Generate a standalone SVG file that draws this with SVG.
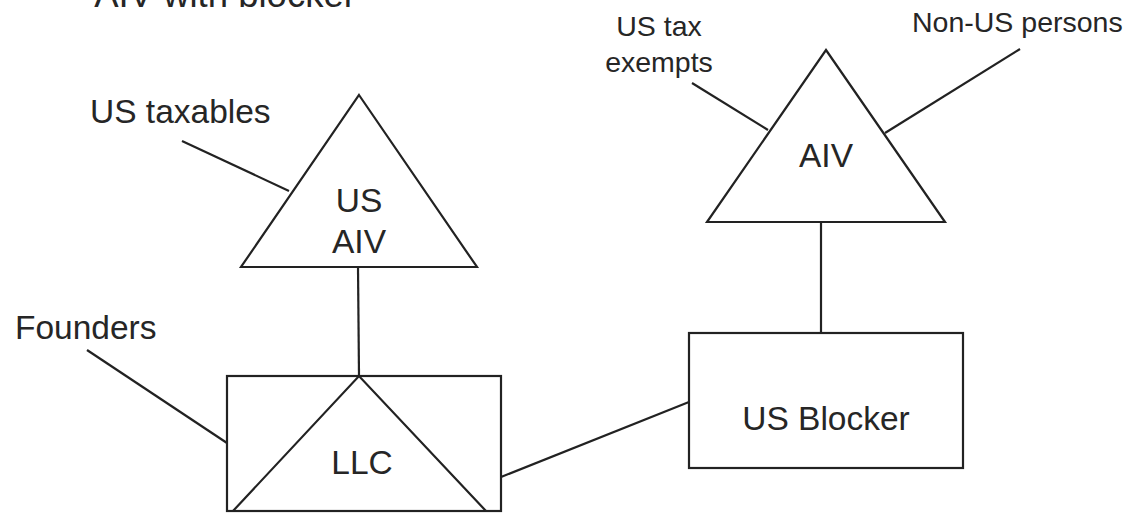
<svg xmlns="http://www.w3.org/2000/svg" width="1133" height="514" viewBox="0 0 1133 514">
  <style>
    .shape { fill: #ffffff; stroke: #222222; stroke-width: 2.2; stroke-linejoin: miter; }
    .link { fill: none; stroke: #222222; stroke-width: 2.2; }
    .lbl { font-family: "Liberation Sans", Arial, sans-serif; fill: #262626; }
    .big { font-size: 33.5px; }
    .small { font-size: 28.5px; }
    .mid { text-anchor: middle; }
  </style>
  <rect width="1133" height="514" fill="#ffffff"/>

  <text id="title" class="lbl mid" x="225" y="7" style="font-size:36.5px">AIV with blocker</text>

  <g id="connectors">
    <line class="link" x1="182" y1="141" x2="289" y2="191"/>
    <line class="link" x1="87" y1="350" x2="227" y2="443"/>
    <line class="link" x1="358" y1="267" x2="359" y2="376"/>
    <line class="link" x1="501" y1="477" x2="689" y2="402"/>
    <line class="link" x1="821" y1="222" x2="821" y2="333"/>
    <line class="link" x1="692" y1="83" x2="768" y2="130"/>
    <line class="link" x1="1020" y1="49" x2="885" y2="133"/>
  </g>

  <g id="us-taxables">
    <text class="lbl big" x="90" y="123">US taxables</text>
  </g>

  <g id="founders">
    <text class="lbl big" x="15" y="339">Founders</text>
  </g>

  <g id="us-tax-exempts">
    <text class="lbl small mid" x="659" y="36">US tax</text>
    <text class="lbl small mid" x="659" y="72">exempts</text>
  </g>

  <g id="non-us-persons">
    <text class="lbl small" x="912" y="32">Non-US persons</text>
  </g>

  <g id="us-aiv">
    <polygon class="shape" points="359,95 477,267 241,267"/>
    <text class="lbl big mid" x="359" y="212">US</text>
    <text class="lbl big mid" x="359" y="253">AIV</text>
  </g>

  <g id="llc">
    <rect class="shape" x="227" y="376" width="274" height="135"/>
    <polyline class="link" points="233,511 359,376 486,511"/>
    <text class="lbl big mid" x="362" y="474">LLC</text>
  </g>

  <g id="aiv">
    <polygon class="shape" points="826,50 945,222 707,222"/>
    <text class="lbl big mid" x="826" y="167">AIV</text>
  </g>

  <g id="us-blocker">
    <rect class="shape" x="689" y="333" width="274" height="135"/>
    <text class="lbl big mid" x="826" y="430">US Blocker</text>
  </g>
</svg>
